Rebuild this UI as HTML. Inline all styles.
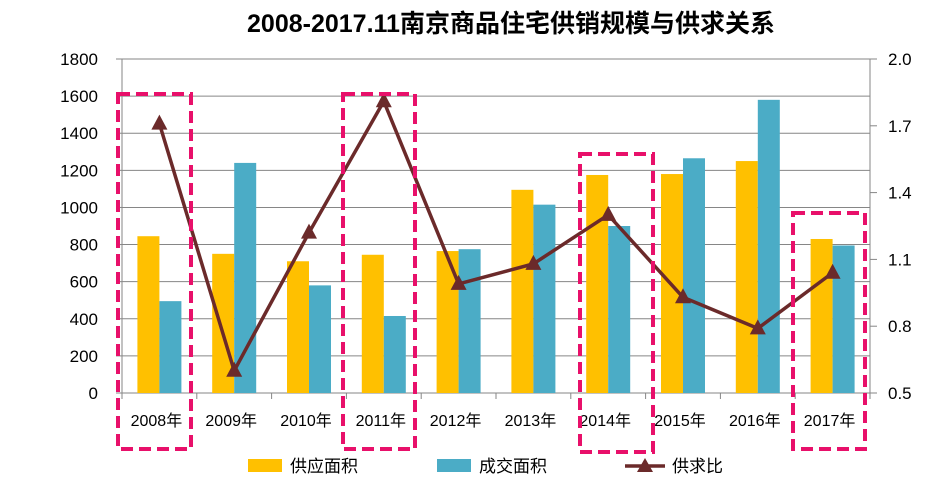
<!DOCTYPE html>
<html><head><meta charset="utf-8"><style>
body{margin:0;background:#fff}
</style></head><body>
<svg width="952" height="485" xmlns="http://www.w3.org/2000/svg" font-family="Liberation Sans, Noto Sans CJK SC, sans-serif">
<rect width="952" height="485" fill="#fff"/>
<text x="511" y="32" text-anchor="middle" font-size="25" font-weight="bold" fill="#000">2008-2017.11南京商品住宅供销规模与供求关系</text>
<g id="grid" stroke="#868686" stroke-width="1"></g>
<g font-size="17" fill="#000" text-anchor="end" id="ll"></g>
<g font-size="17" fill="#000" id="rl"></g>
<g id="bars"></g>
<g font-size="16" fill="#000" text-anchor="middle" id="labels"></g>
<polyline id="line" fill="none" stroke="#6b2a2a" stroke-width="3.5"/>
<g id="tris" fill="#6b2a2a"></g>
<g fill="none" stroke="#e8106a" stroke-width="4" stroke-dasharray="12,6">
<rect x="118" y="94" width="73" height="355"/>
<rect x="343" y="94" width="72" height="355"/>
<rect x="580" y="154" width="73" height="298"/>
<rect x="793" y="213" width="72" height="236"/>
</g>
<rect x="248" y="459" width="34" height="13" fill="#ffc000"/>
<text x="290" y="472" font-size="17">供应面积</text>
<rect x="437" y="459" width="34" height="13" fill="#4bacc6"/>
<text x="479" y="472" font-size="17">成交面积</text>
<line x1="625" y1="466" x2="665" y2="466" stroke="#6b2a2a" stroke-width="3.5"/>
<polygon points="645,458 653,472 637,472" fill="#6b2a2a"/>
<text x="672" y="472" font-size="17">供求比</text>
<script>
var s=[845,750,710,745,765,1095,1175,1180,1250,830],d=[495,1240,580,415,775,1015,900,1265,1580,795],r=[1.71,0.60,1.22,1.81,0.99,1.08,1.30,0.93,0.79,1.04];
var ns="http://www.w3.org/2000/svg",b=document.getElementById('bars'),l=document.getElementById('labels'),t=document.getElementById('tris'),g=document.getElementById('grid'),pts=[];
function el(n,a,p){var e=document.createElementNS(ns,n);for(var k in a)e.setAttribute(k,a[k]);p.appendChild(e);return e;}
var L=122,R=870,Y0=393,YT=59,H=Y0-YT,W=(R-L)/10;
for(var j=0;j<=9;j++){var y=Y0-H*j/9;el('line',{x1:L,y1:y,x2:R,y2:y},g);el('line',{x1:L-6,y1:y,x2:L,y2:y},g);
var tx=el('text',{x:98,y:y+6},document.getElementById('ll'));tx.textContent=j*200;}
for(var j=0;j<=5;j++){var y=Y0-H*j/5;el('line',{x1:R,y1:y,x2:R+7,y2:y},g);
var tx=el('text',{x:888,y:y+6},document.getElementById('rl'));tx.textContent=(0.5+0.3*j).toFixed(1);}
el('line',{x1:L,y1:YT,x2:L,y2:Y0},g);el('line',{x1:R,y1:YT,x2:R,y2:Y0},g);
for(var j=0;j<=10;j++){el('line',{x1:L+W*j,y1:Y0,x2:L+W*j,y2:Y0+6},g);}
for(var i=0;i<10;i++){var c=L+W*(i+0.5),k=H/1800;
el('rect',{x:c-22,y:Y0-s[i]*k,width:22,height:s[i]*k,fill:'#ffc000'},b);
el('rect',{x:c,y:Y0-d[i]*k,width:22,height:d[i]*k,fill:'#4bacc6'},b);
var tx=el('text',{x:c-3,y:426},l);tx.textContent=(2008+i)+'年';
var y=Y0-(r[i]-0.5)*H/1.5;pts.push(c+','+y);
el('polygon',{points:c+','+(y-9)+' '+(c+8)+','+(y+6)+' '+(c-8)+','+(y+6)},t);}
document.getElementById('line').setAttribute('points',pts.join(' '));
</script>
</svg>
</body></html>
